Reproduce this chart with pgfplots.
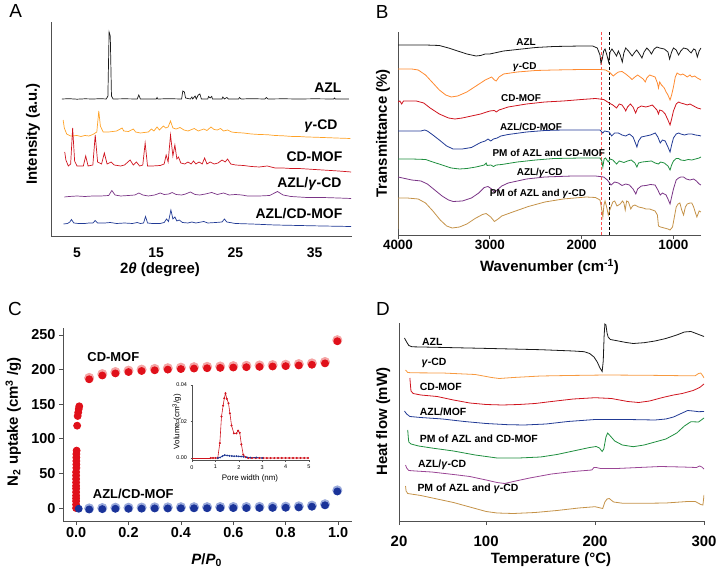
\documentclass[border=0pt]{standalone}
\usepackage{fontspec}
\setmainfont{Liberation Sans}
\usepackage{pgfplots}
\pgfplotsset{compat=1.18}
\newcommand\fs[1]{\fontsize{#1}{#1}\selectfont}
\definecolor{cblack}{HTML}{1A1A1A}
\definecolor{corangeA}{HTML}{FFA226}
\definecolor{corange}{HTML}{FF8A30}
\definecolor{corangeD}{HTML}{F79A40}
\definecolor{cred}{HTML}{D0141E}
\definecolor{cdot}{HTML}{E0101A}
\definecolor{cring}{HTML}{F5A5A5}
\definecolor{cpurple}{HTML}{7A3486}
\definecolor{cpurpleD}{HTML}{9A4595}
\definecolor{cblue}{HTML}{213A95}
\definecolor{cbdot}{HTML}{1A3399}
\definecolor{cbring}{HTML}{9AAADB}
\definecolor{cgreen}{HTML}{1F8F3F}
\definecolor{ctan}{HTML}{C49248}
\definecolor{cspine}{HTML}{505050}
\definecolor{cdred}{HTML}{FF4D4D}
\tikzset{lab/.style={font=\fs{#1}\bfseries, inner sep=0pt}}
\pgfplotsset{
  panel/.style={
    scale only axis, anchor=south west,
    axis lines=left,
    axis line style={-, draw=cspine, line width=0.9bp},
    every outer x axis line/.append style={-},
    every outer y axis line/.append style={-},
    tick style={draw=cspine, line width=0.8bp},
    tick align=outside, major tick length=4bp,
    scaled ticks=false,
    /pgf/number format/assume math mode=true,
    /pgf/number format/1000 sep={},
    tick label style={font=\fs{14}\bfseries, text=black},
    label style={font=\fs{15}\bfseries},
    ytick=\empty,
    every axis plot/.append style={line width=0.8bp, mark=none},
  },
}
\begin{document}
\begin{tikzpicture}
\useasboundingbox (0,0) rectangle (718bp,574bp);
% ---------------- Panel A ----------------
\begin{axis}[panel, at={(51bp,338bp)}, width=301bp, height=214bp,
  xmin=1.72, xmax=39.7, ymin=0, ymax=214,
  xtick={5,15,25,35}, major tick length=0pt,
  xticklabel style={yshift=-8bp},
  xlabel={2\textit{θ} (degree)},
  xlabel style={at={(axis description cs:0.362,-0.156)}, anchor=center},
  ylabel={Intensity (a.u.)},
  ylabel style={at={(axis description cs:-0.06,0.477)}, anchor=center},
  every axis plot/.append style={line width=0.7bp}]
\addplot[cblack] coordinates {(3.1,137)(4,137.3)(5,136.8)(6,137.2)(7,137)(8,137.3)(8.7,137)(8.9,140)(9.05,204)(9.2,200)(9.35,140)(9.55,137)(11,137.2)(12.6,137)(12.8,141)(13.0,137)(15.0,137)(15.1,138.5)(15.2,137)(16.5,137.3)(18.2,137)(18.35,145)(18.55,144)(18.7,138)(19.3,137)(19.5,139)(19.6,137)(19.9,140)(20.05,137)(20.3,141)(20.5,142)(20.7,137)(21.5,137)(21.6,139.5)(21.8,138)(22.0,139.5)(22.1,137)(23.3,137)(23.4,139)(23.6,137)(23.9,138.5)(24.1,137)(25.4,137)(25.5,138.5)(25.7,137)(27,137.3)(28.7,137)(28.9,138.5)(29.1,137)(31,137.2)(33,137)(35,137.2)(37.4,137)(37.5,138)(37.6,137)(39.3,137)};
\addplot[corangeA] coordinates {(3.25,116)(3.4,108)(3.7,102)(4.2,100)(5,100.5)(5.5,99.5)(6,100.5)(6.5,100)(7,101.5)(7.5,104)(7.75,125)(7.95,110)(8.3,104)(9,104)(10,105)(10.7,108)(10.9,105)(11.5,104.5)(12.1,107)(12.4,104)(13,103)(14,104)(14.4,107)(14.7,105)(15.1,109)(15.4,106)(15.9,110)(16.2,108)(16.5,109)(16.8,115)(17.1,108)(17.5,107)(18,108.5)(18.5,106)(19,105)(19.8,107.5)(20.3,105)(21,107)(21.4,105.5)(21.9,109)(22.3,106.5)(22.7,106)(23.1,107.5)(23.5,105)(24,106)(24.5,104)(25,103.5)(26,103)(27,102)(28,101.5)(29,101.3)(30,100.5)(31,100.2)(32,99.6)(33,99.5)(34,99)(35,98.8)(36,98.5)(37,98.2)(38,97.9)(39.5,97.5)};
\addplot[cred] coordinates {(3.45,84)(3.6,76)(3.9,70)(4.2,72)(4.45,108)(4.7,75)(5.0,70)(5.8,70)(6.1,80)(6.4,70)(7.0,71)(7.3,101)(7.6,74)(8.1,72)(8.45,83)(8.8,72)(9.3,74)(9.7,71)(10.5,70)(11,71)(11.7,76)(12.1,71)(12.5,74)(12.9,70)(13.3,71)(13.6,93)(13.9,70)(14.5,70)(15.5,70.5)(16.0,72)(16.25,81)(16.5,74)(16.8,101)(17.1,80)(17.35,91)(17.6,77)(17.8,79)(18.1,73)(18.6,72)(19.0,74)(19.4,72)(19.7,75)(20.0,72)(20.4,74)(20.8,72)(21.1,78)(21.4,72)(21.8,74)(22.3,72)(22.8,73)(23.3,76)(23.7,74)(24.0,77)(24.4,72)(25,71)(26,70.5)(27,69.5)(28,69)(29,70)(30,68)(31,68)(32,67.5)(33,67.5)(34,67)(35,66.5)(36,66)(37,65.5)(38,65)(39.6,64)};
\addplot[cpurple] coordinates {(3.4,39)(4,39.5)(5,40)(6,39.5)(7,40)(8,40)(9,40.5)(9.4,45.5)(9.8,41)(10.5,40)(11.5,40.5)(12.3,41)(12.8,43)(13.3,41)(14,40)(14.8,41)(15.5,43)(16,41.5)(16.6,42)(17,43.5)(17.5,41.5)(18.2,41)(18.7,42)(19.3,44)(19.9,41.5)(20.5,41)(21.2,42)(22,43.5)(22.7,41.5)(23.5,43)(24.2,41)(25,41.5)(25.8,41)(26.5,40)(28,40)(29.3,40.5)(30.3,44.5)(31,41)(32,39.5)(34,38.5)(36,38.5)(38,38)(39.6,37.5)};
\addplot[cblue] coordinates {(3.3,12)(3.8,12.5)(4.1,14)(4.3,16.5)(4.6,13)(5.2,12.5)(6,12.5)(6.5,13)(7.0,13)(7.3,15.5)(7.6,13)(8.5,13)(9.2,13.5)(10,12.5)(11,13)(12,12.5)(12.6,13.5)(13,12.5)(13.4,13)(13.65,19.5)(13.9,13)(14.5,12.5)(15.5,12.5)(16,13.5)(16.3,17)(16.55,14.5)(16.85,26)(17.1,17)(17.35,19)(17.6,15)(17.9,16)(18.3,13.5)(19,13)(19.5,14)(20,13)(21,14.5)(21.5,13)(22.5,13.5)(23.3,14)(23.6,17)(23.9,14)(25,12.5)(27,12)(30,11)(33,10.5)(36,10)(39.6,9.5)};
\node[lab=14, anchor=east] at (axis cs:38.4,148) {AZL};
\node[lab=14, anchor=east] at (axis cs:37.9,110) {\textit{γ}-CD};
\node[lab=14, anchor=east] at (axis cs:38.5,79) {CD-MOF};
\node[lab=14, anchor=east] at (axis cs:38.4,52) {AZL/\textit{γ}-CD};
\node[lab=14, anchor=east] at (axis cs:38.5,22) {AZL/CD-MOF};
\end{axis}
% ---------------- Panel B ----------------
\begin{axis}[panel, at={(398bp,339bp)}, width=303bp, height=203bp,
  x dir=reverse, xmin=700, xmax=4000, ymin=0, ymax=203,
  xtick={1000,2000,3000,4000},
  tick label style={font=\fs{13.5}\bfseries},
  xticklabel style={yshift=2bp},
  xlabel={Wavenumber (cm\textsuperscript{-1})},
  xlabel style={at={(axis description cs:0.5,-0.156)}, anchor=center},
  ylabel={Transmittance (\%)},
  ylabel style={at={(axis description cs:-0.0495,0.5)}, anchor=center}]
\addplot[cdred, dash pattern=on 3bp off 2bp, line width=1.3bp] coordinates {(1780,0)(1780,203)};
\addplot[black, dash pattern=on 3bp off 2bp, line width=1.1bp] coordinates {(1698,0)(1698,203)};
\addplot[cblack] coordinates {(4000,190)(3700,190)(3550,189.5)(3450,187)(3350,184)(3250,181)(3150,179)(3100,179.5)(3050,181)(3000,181)(2950,182)(2850,184)(2700,185.5)(2500,187.5)(2300,188.5)(2000,189)(1880,189)(1830,187)(1800,180)(1790,172)(1775,176)(1760,184)(1745,186)(1725,180)(1706,173)(1690,183)(1670,186)(1640,182)(1620,179)(1600,184)(1580,180)(1557,173)(1540,182)(1520,187)(1490,184)(1450,179)(1420,183)(1400,185)(1370,181)(1343,177)(1320,183)(1290,187)(1260,184)(1240,181)(1210,186)(1180,188)(1150,187)(1100,186)(1060,183)(1042,176)(1020,183)(1000,187)(970,185)(944,180)(920,184)(890,187)(850,186)(808,182)(780,186)(760,185)(740,178)(720,184)(700,187)};
\addplot[corange] coordinates {(4000,166)(3850,166)(3780,165)(3700,160)(3620,152)(3550,145)(3480,140)(3420,138)(3350,139)(3250,143)(3150,149)(3050,155)(2980,158)(2950,155)(2930,154)(2900,158)(2850,161)(2700,163)(2500,164.5)(2300,165)(2000,165.5)(1800,165.5)(1740,165)(1700,163)(1655,159)(1630,161)(1600,163)(1560,163.5)(1520,161)(1480,158)(1451,155.5)(1420,158)(1390,160)(1360,158)(1330,156)(1307,153)(1290,157)(1260,160)(1230,159)(1200,158)(1175,152)(1163,147)(1150,153)(1130,150)(1100,147)(1080,143)(1060,140)(1037,135)(1020,140)(1000,148)(980,158)(960,162)(944,161)(920,160)(900,161)(880,160)(850,158)(820,160)(800,158)(770,159)(740,157)(720,156)(700,155)};
\addplot[cred] coordinates {(4000,133)(3980,134)(3960,131)(3940,134)(3800,134)(3720,132)(3650,127)(3550,121)(3450,117)(3380,116)(3300,117)(3200,119)(3100,121)(3000,124)(2950,124.5)(2930,123)(2900,125)(2800,128)(2600,131)(2400,133)(2200,134)(2000,135.5)(1850,136.5)(1760,135.5)(1700,132)(1660,130)(1620,127)(1590,131)(1560,130)(1530,126)(1520,124)(1500,128)(1470,131)(1440,128)(1412,122)(1390,127)(1350,129)(1300,128)(1260,129)(1230,130)(1200,127)(1180,125)(1163,121)(1150,125)(1120,124)(1090,121)(1060,115)(1037,110)(1020,116)(1000,124)(970,131)(944,133)(920,132)(880,131)(850,130)(820,131)(780,129)(740,127)(700,126)};
\addplot[cblue] coordinates {(4000,104)(3850,104)(3750,104)(3710,105)(3680,104)(3620,100)(3550,95)(3470,89)(3400,86)(3300,86)(3200,87.5)(3150,90)(3100,92.5)(3050,94)(3020,96)(2990,94)(2960,96)(2920,97)(2880,99)(2800,100.5)(2600,103)(2400,104.5)(2200,105)(1900,105)(1800,105)(1770,102)(1750,104)(1700,103)(1673,99)(1640,102)(1600,102)(1560,100)(1520,99)(1480,101)(1440,98)(1410,91)(1398,88)(1380,94)(1350,98)(1300,99)(1250,100)(1198,102)(1170,98)(1144,92)(1120,95)(1090,94)(1060,88)(1037,83)(1020,90)(1000,97)(970,101)(944,102)(920,101)(880,100)(840,101)(800,101)(760,100)(720,99.5)(700,99)};
\addplot[cgreen] coordinates {(4000,76)(3850,76)(3700,75.5)(3620,73)(3520,70)(3420,67)(3330,66)(3250,66.5)(3150,68)(3060,70)(3040,72)(3030,69.5)(2990,70)(2960,68.5)(2930,70)(2870,70.5)(2700,73)(2500,75)(2300,76.5)(2000,77)(1800,77)(1780,74)(1769,68)(1755,76)(1740,77)(1710,73)(1690,76)(1660,75)(1620,71)(1590,74)(1540,72.5)(1500,74)(1460,75)(1420,72)(1398,68)(1380,72)(1340,73)(1290,73.5)(1240,74)(1200,72)(1163,71)(1140,73)(1100,72)(1060,69)(1037,65)(1020,70)(1000,74)(970,76.5)(944,76.5)(920,75)(880,74.5)(840,75.5)(800,75)(760,76)(720,77)(700,78)};
\addplot[cpurple] coordinates {(4000,58)(3900,56)(3850,55)(3750,54)(3680,51)(3600,45)(3520,39)(3450,35)(3400,33.5)(3300,34)(3200,37)(3120,42)(3060,47.5)(3020,48.5)(2980,46)(2950,42.5)(2920,45)(2870,49)(2800,52)(2600,56)(2400,58)(2100,59)(1850,59)(1760,58)(1720,55)(1680,50)(1640,53)(1600,52)(1560,49.5)(1520,51)(1480,50)(1440,46)(1410,41)(1390,46)(1350,49)(1300,49.5)(1250,50.5)(1200,50)(1170,45)(1144,40)(1120,42)(1080,40)(1060,36)(1037,31)(1020,38)(1000,46)(970,55)(944,57)(920,58)(890,58)(860,56)(820,55)(780,56)(750,54)(720,51)(700,50)};
\addplot[ctan] coordinates {(4000,6)(3999,37)(3900,37)(3780,36)(3700,32)(3620,24)(3540,15)(3470,9)(3410,7)(3330,8)(3250,11)(3160,16.5)(3080,20.5)(3040,21.5)(2990,18)(2950,13.5)(2910,16)(2870,19)(2750,23)(2580,28.5)(2400,33)(2200,36)(1950,38)(1850,37.5)(1800,35)(1780,25)(1769,18)(1757,30)(1745,34)(1725,27)(1710,20)(1690,26)(1660,33)(1640,34)(1615,29)(1580,31)(1555,34)(1540,32)(1525,25)(1510,34)(1490,33)(1465,26)(1445,29)(1420,30)(1380,28)(1330,27)(1300,26)(1260,26)(1200,24)(1175,20)(1163,9)(1140,8)(1100,7)(1060,6)(1037,5)(1010,8)(990,18)(970,28)(950,31)(930,32)(910,25)(890,20)(870,28)(850,31)(820,32)(800,32)(780,28)(760,22)(745,18)(720,24)(700,23)};
\node[lab=10] at (axis cs:2606,192.5) {AZL};
\node[lab=10] at (axis cs:2620,168.3) {\textit{γ}-CD};
\node[lab=10] at (axis cs:2660,136.7) {CD-MOF};
\node[lab=10] at (axis cs:2551,107.7) {AZL/CD-MOF};
\node[lab=10] at (axis cs:2358,81.7) {PM of AZL and CD-MOF};
\node[lab=10] at (axis cs:2456,61.7) {AZL/\textit{γ}-CD};
\node[lab=10] at (axis cs:2475,41) {PM of AZL and \textit{γ}-CD};
\end{axis}
% ---------------- Panel C ----------------
\begin{axis}[panel, at={(63bp,53bp)}, width=289bp, height=193bp,
  xmin=-0.05, xmax=1.053, ymin=-18.7, ymax=260.1,
  xtick={0,0.2,0.4,0.6,0.8,1.0}, ytick={0,50,100,150,200,250},
  tick label style={font=\fs{14.5}\bfseries},
  xticklabel style={yshift=1bp, /pgf/number format/fixed, /pgf/number format/fixed zerofill, /pgf/number format/precision=1},
  xlabel={\textit{P}/\textit{P}\textsubscript{0}},
  xlabel style={at={(axis description cs:0.497,-0.202)}, anchor=center},
  ylabel={N\textsubscript{2} uptake (cm\textsuperscript{3} /g)},
  ylabel style={at={(axis description cs:-0.172,0.514)}, anchor=center}]
\addplot[cring, only marks, mark=*, mark size=4.6bp, mark options={draw=none, fill=cring}] coordinates {(0.05,188)(0.1,193.5)(0.15,196.5)(0.2,198.5)(0.25,200)(0.3,201)(0.35,202)(0.4,202.8)(0.45,203.5)(0.5,204)(0.55,204.5)(0.6,205)(0.65,205.5)(0.7,206)(0.75,206.5)(0.8,207)(0.85,208)(0.9,209)(0.95,211)(0.997,242.5)};
\addplot[cdot, only marks, mark=*, mark size=3.5bp, mark options={draw=none, fill=cdot}] coordinates {(0.0,0)(0.0,5)(0.0,10)(0.0,14)(0.0,18)(0.0,23)(0.0,28)(0.0,32)(0.0,37)(0.0,42)(0.0,47)(0.0,52)(0.001,58)(0.001,63)(0.001,68)(0.001,73)(0.001,78)(0.002,83)(0.004,119)(0.006,133)(0.008,138)(0.010,143)(0.012,147)(0.05,186)(0.1,191.5)(0.15,194.5)(0.2,196.5)(0.25,198)(0.3,199)(0.35,200)(0.4,200.8)(0.45,201.5)(0.5,202)(0.55,202.5)(0.6,203)(0.65,203.5)(0.7,204)(0.75,204.5)(0.8,205)(0.85,206)(0.9,207)(0.95,209)(0.997,241)};
\addplot[cbring, only marks, mark=*, mark size=4.6bp, mark options={draw=none, fill=cbring}] coordinates {(0.05,-0.5)(0.1,0)(0.15,0.5)(0.2,0.5)(0.25,0.7)(0.3,1)(0.35,1)(0.4,1.2)(0.45,1.2)(0.5,1.3)(0.55,1.5)(0.6,1.5)(0.65,1.5)(0.7,1.7)(0.75,1.8)(0.8,2)(0.85,2.5)(0.9,3.5)(0.95,5.5)(0.997,25.5)};
\addplot[cbdot, only marks, mark=*, mark size=3.5bp, mark options={draw=none, fill=cbdot}] coordinates {(0.01,-1)(0.05,-2)(0.1,-1.5)(0.15,-1)(0.2,-1)(0.25,-0.8)(0.3,-0.5)(0.35,-0.5)(0.4,-0.3)(0.45,-0.3)(0.5,-0.2)(0.55,0)(0.6,0)(0.65,0)(0.7,0.2)(0.75,0.3)(0.8,0.5)(0.85,1)(0.9,2)(0.95,4)(0.997,24)};
\node[lab=13] at (axis cs:0.142,218) {CD-MOF};
\node[lab=13] at (axis cs:0.218,19.7) {AZL/CD-MOF};
\end{axis}
% ---------------- Inset ----------------
\begin{axis}[panel, at={(192bp,113.8bp)}, width=117bp, height=75.2bp,
  xmin=0, xmax=5, ymin=-0.0012, ymax=0.04,
  xtick={0,1,2,3,4,5}, ytick={0,0.02,0.04},
  axis line style={line width=0.5bp}, tick style={line width=0.4bp},
  major tick length=1.5bp,
  tick label style={font=\fs{5.5}\mdseries},
  yticklabel style={/pgf/number format/fixed, /pgf/number format/fixed zerofill, /pgf/number format/precision=2},
  label style={font=\fs{8}\mdseries},
  xlabel={Pore width (nm)},
  xlabel style={at={(axis description cs:0.496,-0.237)}, anchor=center},
  ylabel={Volume (cm\textsuperscript{3}/g)},
  ylabel style={at={(axis description cs:-0.131,0.512)}, anchor=center},
  every axis plot/.append style={line width=0.6bp}]
\addplot[cred] coordinates {(0,0)(0.8,0)};
\addplot[cred, mark=*, mark size=0.7bp, mark options={fill=cred}] coordinates {(0.8,0)(0.9,0)(1.0,0)(1.1,0)(1.19,0.0082)(1.26,0.0227)(1.33,0.0287)(1.38,0.0327)(1.43,0.0355)(1.49,0.0324)(1.56,0.030)(1.62,0.0245)(1.69,0.0178)(1.79,0.0135)(1.9,0.0135)(1.97,0.0150)(2.04,0.0138)(2.11,0.0075)(2.19,0.0018)(2.29,0.0005)(2.4,0)(2.56,0)(2.72,0)(2.88,0)(3.04,0)(3.2,0)(3.36,0)(3.52,0)(3.68,0)(3.84,0)(4.0,0)(4.16,0)(4.32,0)(4.48,0)(4.64,0)(4.8,0)(4.96,0)};
\addplot[cblue, mark=*, mark size=0.6bp, mark options={fill=cblue}] coordinates {(1.1,0)(1.2,0.0003)(1.3,0.0010)(1.4,0.0016)(1.5,0.0014)(1.6,0.0012)(1.7,0.0011)(1.8,0.0010)(1.9,0.0010)(2.0,0.0009)(2.1,0.0008)(2.2,0.0007)(2.35,0.0004)(2.5,0.0002)(2.75,0.0003)(3.0,0)};
\end{axis}
% ---------------- Panel D ----------------
\begin{axis}[panel, at={(399bp,53bp)}, width=305bp, height=198bp,
  xmin=20, xmax=300, ymin=0, ymax=198,
  xtick={20,100,200,300},
  tick label style={font=\fs{15}\bfseries},
  xticklabel style={yshift=-8bp},
  xlabel={Temperature (°C)},
  xlabel style={at={(axis description cs:0.498,-0.197)}, anchor=center},
  ylabel={Heat flow (mW)},
  ylabel style={at={(axis description cs:-0.052,0.502)}, anchor=center}]
\addplot[cblack] coordinates {(25,183)(27,179)(29,175.5)(32,174.2)(50,173.8)(100,172.6)(150,171.3)(180,170)(190,169.3)(195,167.5)(199,164)(202,159)(204.5,153)(206.5,149.5)(207.5,160)(208.3,185)(209,197)(210,196)(211,188)(212,184)(214,181.5)(220,180.3)(228,178.6)(235,177.5)(245,178.3)(255,180)(265,182.5)(275,186)(282,189)(288,189.5)(294,187)(300,184.5)};
\addplot[corangeD] coordinates {(26,151)(28,148.5)(32,148.2)(60,148)(90,146.5)(105,143.5)(112,142.5)(125,143.5)(150,145)(175,145.5)(210,146)(250,145.7)(280,145.3)(292,145.3)(295,147.5)(297,148)(299,145)(300,143)};
\addplot[cred] coordinates {(30,143)(30.5,136)(31,130)(33,127.5)(40,126)(55,124.5)(70,121)(85,118)(100,116.5)(115,116)(130,116.5)(145,117.5)(160,119.5)(180,122)(200,123.3)(215,122.5)(230,119.5)(240,118.5)(250,120)(262,123.5)(272,126)(280,127.5)(290,130.5)(296,133.5)(300,137)};
\addplot[cblue] coordinates {(25,110)(27,107)(30,104.5)(40,103.5)(60,102)(80,99.5)(100,97.5)(120,96.3)(135,96)(155,97)(175,99.5)(200,101.5)(230,101.5)(255,101)(265,102)(272,104)(280,108)(285,110.5)(290,110)(295,109.3)(300,109.5)};
\addplot[cgreen] coordinates {(28,91)(28.5,84)(29,79)(31,77)(38,75)(50,73)(70,70)(90,66)(100,64.5)(110,63)(130,63)(150,64)(165,66.5)(180,70)(195,73.5)(201,74.5)(204,73)(206.5,69.5)(208,72)(210,84)(211.5,88)(214,85)(218,80)(225,76)(235,74.3)(245,76)(255,79)(265,82)(275,88)(282,95)(288,99.3)(295,99)(300,103)};
\addplot[cpurpleD] coordinates {(26,56)(27,53)(29,50.5)(35,50)(50,49)(70,46.5)(85,44.5)(100,41)(110,38.5)(117,37.5)(125,39.5)(140,43)(160,47)(180,49.5)(197,51)(199,53.5)(201,53.5)(205,52.5)(220,52.5)(240,53.5)(260,54.5)(280,54)(293,53.5)(296,55)(298,54)(300,52)};
\addplot[ctan] coordinates {(26,35)(26.5,30)(28,27.5)(40,25.5)(55,22)(70,18.5)(85,14)(100,9.5)(110,8)(125,7.5)(145,8.5)(165,10.5)(185,13)(200,14.3)(205,13)(207,12.5)(209,19)(211,22)(213,22.5)(217,19)(225,17.8)(245,17.7)(265,18)(285,19.5)(292,19.5)(297,16.5)(299,16)(300,26)};
\node[lab=10.5, anchor=west] at (axis cs:41,178.7) {AZL};
\node[lab=10.5, anchor=west] at (axis cs:40.5,158.3) {\textit{γ}-CD};
\node[lab=10.5, anchor=west] at (axis cs:39,134.3) {CD-MOF};
\node[lab=10.5, anchor=west] at (axis cs:39,108.7) {AZL/MOF};
\node[lab=10.5, anchor=west] at (axis cs:39,82) {PM of AZL and CD-MOF};
\node[lab=10.5, anchor=west] at (axis cs:37.4,56) {AZL/\textit{γ}-CD};
\node[lab=10.5, anchor=west] at (axis cs:36.8,32.7) {PM of AZL and \textit{γ}-CD};
\end{axis}
% panel letters
\node[font=\fs{19}] at (15.7bp,563bp) {A};
\node[font=\fs{19}] at (382.3bp,562.3bp) {B};
\node[font=\fs{19}] at (15bp,265bp) {C};
\node[font=\fs{19}] at (383bp,265bp) {D};
\end{tikzpicture}
\end{document}
